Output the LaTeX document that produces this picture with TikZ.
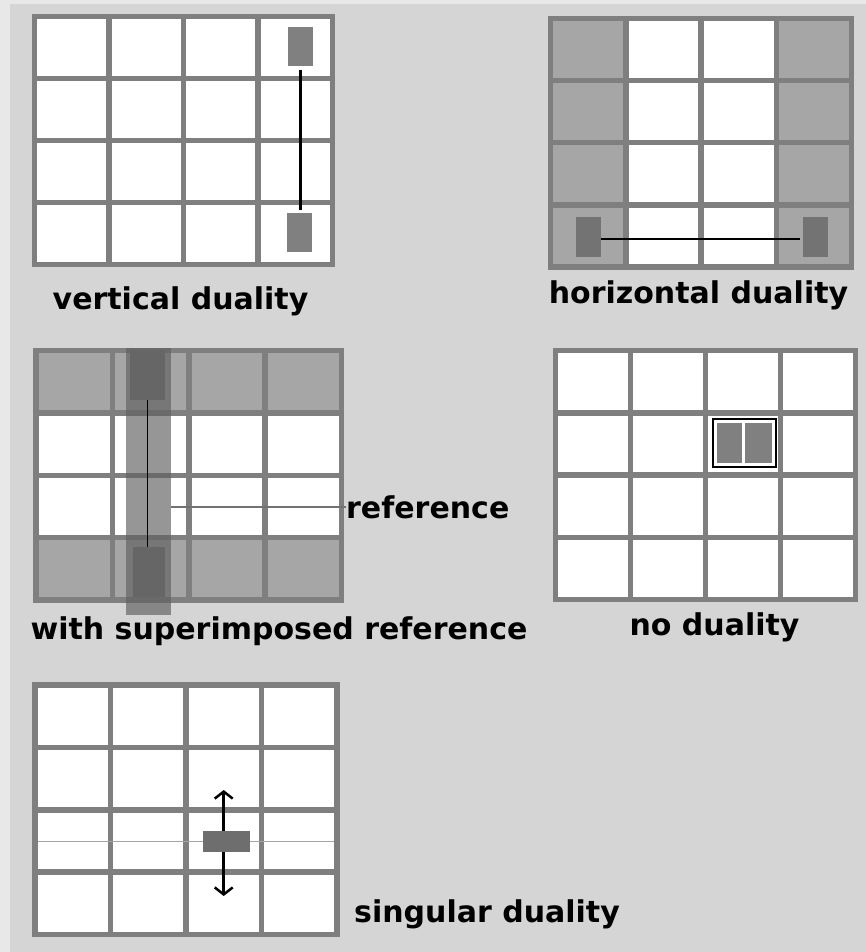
\documentclass[tikz,border=0pt]{standalone}
\usepackage{fontspec}
\newfontfamily\labelfont{DejaVu Sans}
\usepackage{tikz}
\usetikzlibrary{positioning, arrows.meta}
\definecolor{bggray}{RGB}{213,213,213}
\definecolor{edgegray}{RGB}{232,232,232}
\definecolor{linegray}{RGB}{127,127,127}
\definecolor{shadegray}{RGB}{166,166,166}
\definecolor{markgray}{RGB}{128,128,128}
\definecolor{darkmark}{RGB}{102,102,102}
\definecolor{stripgray}{RGB}{96,96,96}
\tikzstyle{arrow} = [line width=2.5pt, -{Straight Barb[length=7pt, width=18pt, line width=2.5pt]}]

% 4x4 grid: x0 y0 x1 y1
\newcommand{\gridlines}[4]{%
  \foreach \k in {1,2,3} {
    \draw[gridline] ({#1+\k*(#3-#1)/4},#2) -- ({#1+\k*(#3-#1)/4},#4);
    \draw[gridline] (#1,{#2+\k*(#4-#2)/4}) -- (#3,{#2+\k*(#4-#2)/4});
  }
  \draw[gridline] (#1,#2) rectangle (#3,#4);
}

\begin{document}
\begin{tikzpicture}[x=1pt, y=-1pt]
    \tikzstyle{gridline} = [draw=linegray, line width=5.5pt]
    \tikzstyle{cellmark} = [rectangle, fill=markgray, inner sep=0pt]
    \tikzstyle{caption} = [font=\labelfont\bfseries\fontsize{30}{36}\selectfont, inner sep=0pt, anchor=base]
    \tikzstyle{link} = [black, line width=1.5pt]

    \useasboundingbox (0,0) rectangle (866,952);
    \fill[edgegray] (0,0) rectangle (866,952);
    \fill[bggray] (10,4) rectangle (866,952);

    % vertical duality
    \fill[white] (34.5,16.5) rectangle (332.5,264.5);
    \gridlines{34.5}{16.5}{332.5}{264.5}
    \node[cellmark, minimum width=25pt, minimum height=39pt] (vtop) at (300.5,46.5) {};
    \node[cellmark, minimum width=25pt, minimum height=39pt] (vbot) at (299.5,232.5) {};
    \draw[link, line width=3pt, shorten <=4pt, shorten >=3pt] (vtop.south) -- (vtop.south |- vbot.north);
    \node[caption] (vlabel) at (180.5,309) {vertical duality};

    % horizontal duality
    \fill[white] (550.5,18.5) rectangle (851.5,267);
    \fill[shadegray] (550.5,18.5) rectangle (625.75,267);
    \fill[shadegray] (776.25,18.5) rectangle (851.5,267);
    \gridlines{550.5}{18.5}{851.5}{267}
    \node[cellmark, fill=markgray!90!black, minimum width=25pt, minimum height=40pt] (hleft) at (588.5,237) {};
    \node[cellmark, fill=markgray!90!black, minimum width=25pt, minimum height=40pt] (hright) at (815.5,237) {};
    \draw[link] ([yshift=-2pt]hleft.east) -- ([yshift=-2pt, xshift=-3pt]hright.west);
    \node[caption] (hlabel) at (698.5,303) {horizontal duality};

    % with superimposed reference
    \fill[white] (36,350.5) rectangle (341.5,600);
    \fill[shadegray] (36,350.5) rectangle (341.5,412.9);
    \fill[shadegray] (36,537.6) rectangle (341.5,600);
    \gridlines{36}{350.5}{341.5}{600}
    \node[rectangle, fill=stripgray, fill opacity=0.66, inner sep=0pt,
          minimum width=44.8pt, minimum height=267pt] (refstrip) at (148.1,481.5) {};
    \node[cellmark, fill=darkmark, minimum width=34.6pt, minimum height=50pt] (rtop) at (147.5,375) {};
    \node[cellmark, fill=darkmark, minimum width=32.4pt, minimum height=50pt] (rbot) at (148.8,572) {};
    \draw[link] (rtop.south) -- (rtop.south |- rbot.north);
    \node[caption, anchor=base west] (reflabel) at (346,518) {reference};
    \draw[linegray!90!black, line width=2.5pt] (reflabel.west) -- (reflabel.west -| refstrip.east);
    \node[caption] (slabel) at (279,639) {with superimposed reference};

    % no duality
    \fill[white] (555.5,350.5) rectangle (855.5,599.5);
    \gridlines{555.5}{350.5}{855.5}{599.5}
    \node[rectangle, draw=black, line width=2.5pt, fill=white, inner sep=0pt,
          minimum width=63pt, minimum height=48pt] (nobox) at (744.5,443) {};
    \node[cellmark, minimum width=25pt, minimum height=40pt] (nleft) at (729.5,443) {};
    \node[cellmark, minimum width=27pt, minimum height=40pt] (nright) at (758.5,443) {};
    \node[caption] (nlabel) at (714.5,635) {no duality};

    % singular duality
    \fill[white] (35,685) rectangle (337,934.5);
    \gridlines{35}{685}{337}{934.5}
    \coordinate (sleft) at (38,841.7);
    \coordinate (sright) at (334,841.7);
    \draw[linegray!70, line width=1.5pt] (sleft) -- (sright);
    \node[cellmark, fill=darkmark!95!white, minimum width=47pt, minimum height=21pt] (srect) at (226.5,841.5) {};
    \coordinate (uptip) at (223.7,790);
    \coordinate (downtip) at (223.7,896);
    \draw[arrow] ([xshift=-2.8pt]srect.north) -- (uptip);
    \draw[arrow] ([xshift=-2.8pt]srect.south) -- (downtip);
    \node[caption] (glabel) at (487,922) {singular duality};
\end{tikzpicture}
\end{document}
